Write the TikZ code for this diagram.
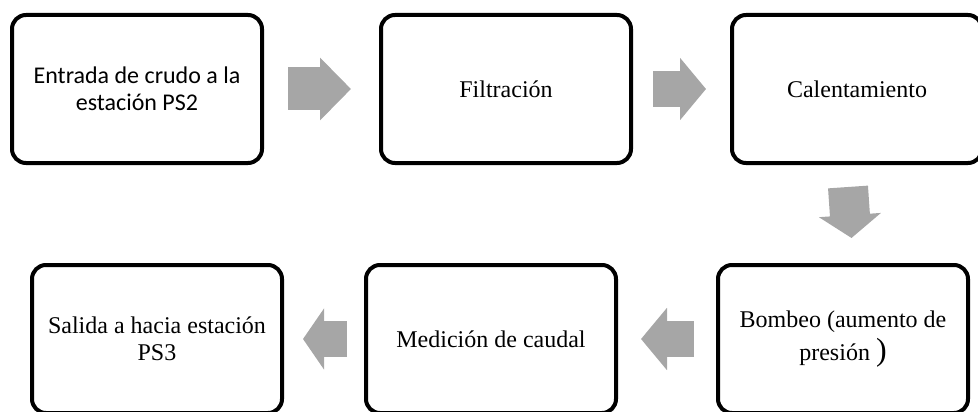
\documentclass[tikz,border=0pt]{standalone}
\usepackage{fontspec}
\setmainfont{Liberation Serif}
\newfontfamily\calibri{Carlito}
\usepackage{tikz}
\usetikzlibrary{positioning,arrows.meta}

\definecolor{flechagris}{RGB}{166,166,166}

\tikzset{
  paso/.style={draw,line width=4pt,rounded corners=14pt,minimum width=250pt,minimum height=148pt,
    align=center,font=\fontsize{24}{27}\selectfont},
  flecha/.style={draw=flechagris,line width=36pt,-{Triangle[length=26pt,width=61pt]}}
}

\begin{document}
\begin{tikzpicture}[x=1pt,y=-1pt]
        \useasboundingbox (0,0) rectangle (978,412);
        \node[paso] (b1) at (137,89) {\calibri Entrada de crudo a la\\\calibri estación PS2};
        \node[paso,right=115pt of b1] (b2) {Filtración};
        \node[paso,right=97pt of b2] (b3) {Calentamiento};
        \node[paso] (b4) at (157,339) {Salida a hacia estación\\PS3};
        \node[paso,right=80pt of b4] (b5) {Medición de caudal};
        \node[paso,right=98pt of b5] (b6) {Bombeo (aumento de\\[5pt]presión {\fontsize{32}{32}\selectfont )}};
        
        %b1>b2
        \draw[flecha,line width=43pt,-{Triangle[length=31pt,width=61pt]}] ([xshift=24pt]b1.east) -- ([xshift=-28pt]b2.west);
        %b2>b3
        \draw[flecha] ([xshift=20pt]b2.east) -- ([xshift=-24pt]b3.west);
        %b3>b6
        \draw[flecha,line width=40pt,-{Triangle[length=23pt,width=61pt]}] ([xshift=-9pt,yshift=-22pt]b3.south) -- ([xshift=8.5pt,yshift=25pt]b6.north);
        %b6>b5
        \draw[flecha] ([xshift=-22pt]b6.west) -- ([xshift=23pt]b5.east);
        %b5>b4
        \draw[flecha,-{Triangle[length=21pt,width=60pt]}] ([xshift=-17pt]b5.west) -- ([xshift=19pt]b4.east);
        \end{tikzpicture}
\end{document}
